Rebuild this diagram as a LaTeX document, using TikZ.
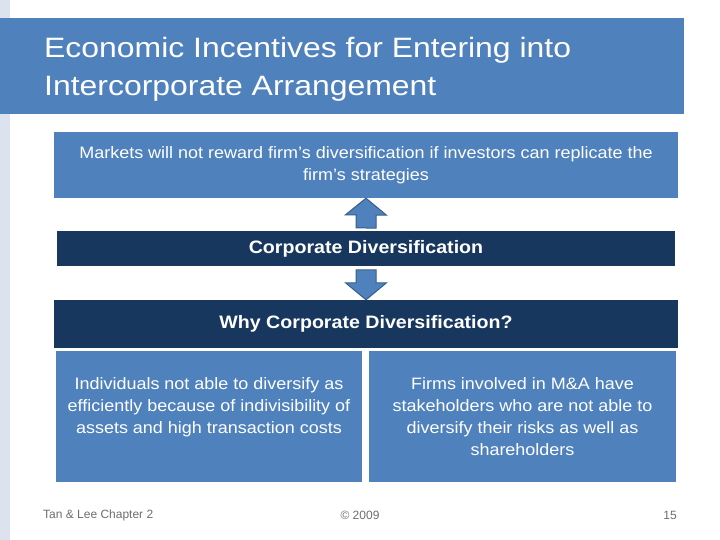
\documentclass[tikz,border=0pt]{standalone}
\usepackage{fontspec}
\setmainfont{Liberation Sans}
\newfontfamily\titlefont[FakeStretch=1.14]{Liberation Sans}
\newfontfamily\bodyfont[FakeStretch=1.09]{Liberation Sans}

\definecolor{slideblue}{RGB}{79,129,189}
\definecolor{slidenavy}{RGB}{23,55,94}
\definecolor{arrowline}{RGB}{56,93,138}
\definecolor{stripgray}{RGB}{220,227,238}
\definecolor{footgray}{RGB}{110,110,110}

\tikzset{
  bluebox/.style={fill=slideblue, text=white, align=center, inner sep=0pt,
    font=\bodyfont\fontsize{16.5}{22}\selectfont},
  navybox/.style={fill=slidenavy, text=white, align=center, inner sep=0pt,
    font=\bodyfont\fontsize{18}{22}\selectfont\bfseries},
  blockarrow/.style={fill=slideblue, draw=arrowline, line width=1pt, line join=miter},
  foottext/.style={text=footgray, font=\fontsize{12}{14}\selectfont, inner sep=0pt}
}

\begin{document}
\begin{tikzpicture}[x=1pt, y=-1pt]
        \useasboundingbox (0,0) rectangle (720,540);
        \fill[stripgray] (0,0) rectangle (10,540);
        \fill[slideblue] (0,18) rectangle (684,114);

        \node[anchor=west, text=white, align=left, inner sep=0pt,
          font=\titlefont\fontsize{28}{38}\selectfont] (title) at (44,69)
          {Economic Incentives for Entering into\\Intercorporate Arrangement};

        \node[bluebox, minimum width=624pt, minimum height=66pt] (markets) at (366,165)
          {Markets will not reward firm’s diversification if investors can replicate the\\firm’s strategies};
        \node[navybox, minimum width=618pt, minimum height=35pt] (corpdiv) at (366,248.5)
          {Corporate Diversification};
        \node[navybox, minimum width=624pt, minimum height=48pt] (whycorp) at (366,324)
          {Why Corporate Diversification?};
        \node[bluebox, minimum width=306pt, minimum height=131pt] (individ) at (209,416.5)
          {Individuals not able to diversify as\\efficiently because of indivisibility of\\assets and high transaction costs\\\mbox{}};
        \node[bluebox, minimum width=307pt, minimum height=131pt] (firms) at (522.5,416.5)
          {Firms involved in M\&A have\\stakeholders who are not able to\\diversify their risks as well as\\shareholders};

        % block arrows
        \filldraw[blockarrow] ([yshift=3pt]corpdiv.north) ++(-10,0) -- ++(0,-13) -- ++(-10.5,0)
          -- (markets.south) -- ++(20.5,17) -- ++(-10.5,0) -- ++(0,13) -- cycle;
        \filldraw[blockarrow] (whycorp.north) -- ++(20.5,-17) -- ++(-10.5,0) -- ++(0,-13)
          -- ++(-20,0) -- ++(0,13) -- ++(-10.5,0) -- cycle;

        \node[foottext, anchor=west] (chapter) at (43,515) {Tan \& Lee Chapter 2};
        \node[foottext] (copyr) at (360,515) {© 2009};
        \node[foottext, anchor=east] (pagenum) at (677,515) {15};
    \end{tikzpicture}
\end{document}
